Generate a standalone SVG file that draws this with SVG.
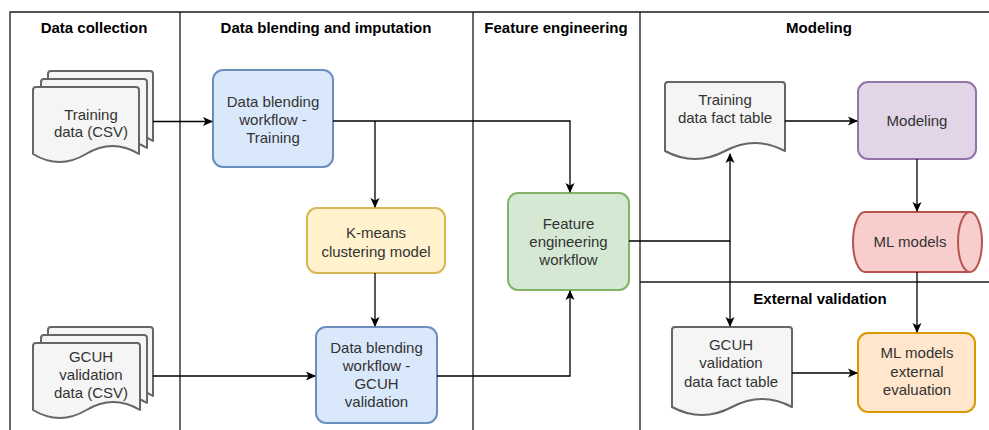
<svg xmlns="http://www.w3.org/2000/svg" width="989" height="430" viewBox="0 0 989 430">
<defs>
<marker id="arr" viewBox="0 0 10 10" refX="9" refY="5" markerWidth="10" markerHeight="10" markerUnits="userSpaceOnUse" orient="auto">
<path d="M0,0.5 L10,5 L0,9.5 L2.5,5 Z" fill="#000"/>
</marker>
<style>
.frame{stroke:#1a1a1a;stroke-width:1.3;fill:none}
.hdr{font-family:"Liberation Sans",Arial,sans-serif;font-size:15px;font-weight:bold;fill:#000;text-anchor:middle}
.t{font-family:"Liberation Sans",Arial,sans-serif;font-size:15px;fill:#333;text-anchor:middle}
.doc{fill:#f5f5f5;stroke:#666;stroke-width:2;stroke-linejoin:round}
.blue{fill:#dae8fc;stroke:#6c8ebf;stroke-width:2}
.yel{fill:#fff2cc;stroke:#d6b656;stroke-width:2}
.grn{fill:#d5e8d4;stroke:#82b366;stroke-width:2}
.pur{fill:#e1d5e7;stroke:#9673a6;stroke-width:2}
.red{fill:#f8cecc;stroke:#b85450;stroke-width:2}
.org{fill:#ffe6cc;stroke:#d79b00;stroke-width:2}
.edge{fill:none;stroke:#000;stroke-width:1.3}
</style>
</defs>
<g id="frame">
<path class="frame" d="M10,430 V12 H989"/>
<path class="frame" d="M180,12 V430 M473,12 V430 M640,12 V430 M640,282 H989"/>
<text class="hdr" x="94" y="33">Data collection</text>
<text class="hdr" x="326" y="33">Data blending and imputation</text>
<text class="hdr" x="556" y="33">Feature engineering</text>
<text class="hdr" x="819" y="33">Modeling</text>
<text class="hdr" x="820" y="304">External validation</text>
</g>
<g id="training-data">
<path class="doc" d="M48,74 Q48,71 51,71 H150 Q153,71 153,74 V141 Q126.75,125 100.5,141 Q74.25,157 48,141 Z"/>
<path class="doc" d="M41,82 Q41,79 44,79 H144 Q147,79 147,82 V148 Q120.5,132 94,148 Q67.5,164 41,148 Z"/>
<path class="doc" d="M33,90 Q33,87 36,87 H136 Q139,87 139,90 V154 Q112.5,138 86,154 Q59.5,170 33,154 Z"/>
<text class="t" x="91" y="119.5">Training</text>
<text class="t" x="91" y="137">data (CSV)</text>
</g>
<g id="gcuh-data">
<path class="doc" d="M48,330 Q48,327 51,327 H150 Q153,327 153,330 V396 Q126.75,380 100.5,396 Q74.25,412 48,396 Z"/>
<path class="doc" d="M41,338 Q41,335 44,335 H144 Q147,335 147,338 V403 Q120.5,387 94,403 Q67.5,419 41,403 Z"/>
<path class="doc" d="M33,346 Q33,343 36,343 H137 Q140,343 140,346 V410 Q113.25,394 86.5,410 Q59.75,426 33,410 Z"/>
<text class="t" x="91" y="362">GCUH</text>
<text class="t" x="91" y="380">validation</text>
<text class="t" x="91" y="398">data (CSV)</text>
</g>
<g id="db-training">
<rect class="blue" x="213" y="70" width="120" height="97" rx="10"/>
<text class="t" x="273" y="107">Data blending</text>
<text class="t" x="273" y="125">workflow -</text>
<text class="t" x="273" y="143">Training</text>
</g>
<g id="kmeans">
<rect class="yel" x="307" y="208" width="138" height="65" rx="10"/>
<text class="t" x="376" y="238">K-means</text>
<text class="t" x="376" y="257">clustering model</text>
</g>
<g id="db-gcuh">
<rect class="blue" x="316" y="327" width="121" height="96" rx="10"/>
<text class="t" x="376.5" y="353">Data blending</text>
<text class="t" x="376.5" y="371">workflow -</text>
<text class="t" x="376.5" y="389">GCUH</text>
<text class="t" x="376.5" y="407">validation</text>
</g>
<g id="feature-eng">
<rect class="grn" x="508" y="193" width="121" height="97" rx="10"/>
<text class="t" x="568.5" y="228.5">Feature</text>
<text class="t" x="568.5" y="247">engineering</text>
<text class="t" x="568.5" y="265">workflow</text>
</g>
<g id="training-fact">
<path class="doc" d="M665,85 Q665,82 668,82 H782 Q785,82 785,85 V151 Q755,135 725,151 Q695,167 665,151 Z"/>
<text class="t" x="725" y="105">Training</text>
<text class="t" x="725" y="123">data fact table</text>
</g>
<g id="gcuh-fact">
<path class="doc" d="M672,330 Q672,327 675,327 H789 Q792,327 792,330 V407 Q762,391 732,407 Q702,423 672,407 Z"/>
<text class="t" x="731" y="350">GCUH</text>
<text class="t" x="731" y="368">validation</text>
<text class="t" x="731" y="387">data fact table</text>
</g>
<g id="modeling">
<rect class="pur" x="858" y="82" width="118" height="77" rx="10"/>
<text class="t" x="917" y="126">Modeling</text>
</g>
<g id="ml-models">
<path class="red" d="M865,212 L970,212 A12,30 0 0 1 970,272 L865,272 A12,30 0 0 1 865,212 Z"/>
<path class="red" style="fill:none" d="M970,212 A12,30 0 0 0 970,272"/>
<text class="t" x="910" y="247">ML models</text>
</g>
<g id="ml-eval">
<rect class="org" x="858" y="333" width="117" height="79" rx="10"/>
<text class="t" x="917" y="358">ML models</text>
<text class="t" x="917" y="377">external</text>
<text class="t" x="917" y="395">evaluation</text>
</g>
<g id="connectors">
<path class="edge" d="M153,121.5 H212" marker-end="url(#arr)"/>
<path class="edge" d="M333,121 H570 V192" marker-end="url(#arr)"/>
<path class="edge" d="M375,121 V207" marker-end="url(#arr)"/>
<path class="edge" d="M375,273 V326" marker-end="url(#arr)"/>
<path class="edge" d="M153,376 H315" marker-end="url(#arr)"/>
<path class="edge" d="M437,376 H570 V291" marker-end="url(#arr)"/>
<path class="edge" d="M629,241 H730 V154" marker-end="url(#arr)"/>
<path class="edge" d="M730,241 V326" marker-end="url(#arr)"/>
<path class="edge" d="M785,121 H857" marker-end="url(#arr)"/>
<path class="edge" d="M917,159 V211" marker-end="url(#arr)"/>
<path class="edge" d="M917,272 V332" marker-end="url(#arr)"/>
<path class="edge" d="M792,373 H857" marker-end="url(#arr)"/>
</g>
</svg>
